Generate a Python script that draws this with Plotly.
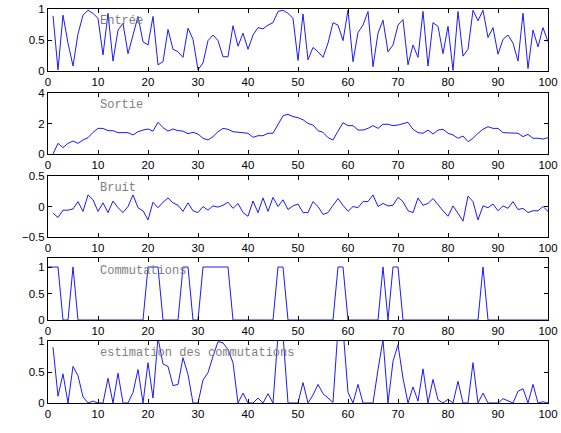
import plotly.graph_objects as go

x_vals = list(range(1, 101))
x_comm = list(range(0, 101))

entree = [0.89, 0.02, 0.90, 0.45, 0.08, 0.60, 0.90, 0.98, 0.93, 0.85,
          0.26, 0.93, 0.16, 0.66, 0.77, 0.28, 0.58, 0.88, 0.47, 0.42,
          0.88, 0.10, 0.15, 0.67, 0.35, 0.31, 0.22, 0.69, 0.51, 0.02,
          0.13, 0.49, 0.58, 0.49, 0.23, 0.23, 0.73, 0.40, 0.61, 0.35,
          0.58, 0.70, 0.68, 0.74, 0.78, 0.96, 0.98, 0.93, 0.85, 0.17,
          0.92, 0.18, 0.38, 0.31, 0.22, 0.45, 0.78, 0.74, 0.49, 0.98,
          0.15, 0.62, 0.74, 0.96, 0.07, 0.61, 0.82, 0.31, 0.42, 0.74,
          0.83, 0.10, 0.42, 0.22, 0.96, 0.08, 0.78, 0.72, 0.28, 0.72,
          0.01, 0.96, 0.24, 0.35, 0.98, 0.81, 0.98, 0.54, 0.70, 0.27,
          0.51, 0.58, 0.45, 0.16, 0.93, 0.04, 0.66, 0.39, 0.70, 0.47]

sortie = [0.00, 0.70, 0.42, 0.70, 0.85, 0.70, 0.92, 1.07, 1.42, 1.68,
          1.68, 1.53, 1.53, 1.40, 1.40, 1.40, 1.25, 1.46, 1.57, 1.64,
          1.50, 2.08, 1.73, 1.50, 1.64, 1.53, 1.50, 1.33, 1.42, 1.31,
          1.03, 0.92, 1.14, 1.46, 1.68, 1.62, 1.46, 1.42, 1.42, 1.36,
          1.09, 1.20, 1.20, 1.36, 1.36, 1.95, 2.51, 2.60, 2.45, 2.38,
          2.25, 2.00, 1.90, 1.53, 1.42, 1.07, 0.92, 1.50, 2.05, 1.86,
          1.86, 1.57, 1.57, 1.68, 1.86, 1.68, 1.95, 1.95, 1.86, 1.90,
          2.00, 2.08, 1.62, 1.40, 1.36, 1.57, 1.31, 1.57, 1.62, 1.36,
          1.25, 1.03, 1.18, 0.81, 1.03, 1.36, 1.62, 1.79, 1.68, 1.68,
          1.40, 1.40, 1.36, 1.36, 1.14, 1.29, 1.03, 1.03, 0.98, 1.07]

bruit = [-0.11, -0.18, -0.06, -0.06, -0.04, 0.08, -0.08, 0.19, 0.11, -0.08,
         0.06, -0.10, 0.09, -0.02, -0.10, 0.00, 0.19, -0.02, -0.07, -0.22,
         0.07, -0.02, 0.07, 0.14, 0.06, 0.02, -0.08, 0.06, -0.07, -0.10,
         0.00, -0.06, 0.01, -0.01, 0.02, 0.07, -0.03, 0.05, -0.10, -0.16,
         0.09, -0.10, 0.14, -0.08, 0.15, 0.00, 0.11, -0.05, 0.01, 0.04,
         -0.10, -0.10, 0.08, 0.00, -0.13, -0.10, 0.02, 0.13, 0.02, -0.08,
         0.00, -0.02, 0.08, 0.08, 0.19, 0.00, 0.05, 0.01, 0.02, 0.15,
         0.08, -0.07, -0.10, 0.14, 0.02, 0.05, 0.13, 0.02, -0.07, -0.16,
         0.01, -0.11, -0.24, 0.17, 0.08, -0.22, 0.01, -0.02, 0.04, -0.07,
         0.01, -0.03, 0.08, -0.05, -0.03, -0.10, -0.07, -0.07, 0.00, -0.08]

comm_on = [0, 1, 2, 5, 20, 21, 22, 27, 28, 31, 32, 33, 34, 35, 36,
           46, 47, 58, 59, 67, 69, 70, 87]
commutations = [1 if k in comm_on else 0 for k in x_comm]

estimation = [0.90, 0.11, 0.47, 0.00, 0.59, 0.44, 0.10, 0.00, 0.03, 0.00,
              0.00, 0.40, 0.00, 0.48, 0.00, 0.00, 0.17, 0.54, 0.00, 0.65,
              0.08, 1.05, 0.63, 0.59, 0.28, 0.30, 0.73, 0.46, 0.00, 0.00,
              0.37, 0.49, 0.75, 0.99, 0.97, 0.86, 0.65, 0.00, 0.16, 0.00,
              0.00, 0.08, 0.00, 0.15, 0.00, 1.10, 1.10, 0.00, 0.00, 0.00,
              0.33, 0.00, 0.13, 0.30, 0.15, 0.08, 0.01, 1.20, 1.20, 0.17,
              0.00, 0.30, 0.00, 0.00, 0.00, 0.54, 1.02, 0.00, 0.67, 0.94,
              0.40, 0.00, 0.26, 0.03, 0.55, 0.00, 0.38, 0.05, 0.00, 0.06,
              0.00, 0.35, 0.00, 0.00, 0.65, 0.00, 0.16, 0.00, 0.00, 0.00,
              0.07, 0.03, 0.00, 0.19, 0.23, 0.00, 0.30, 0.00, 0.02, 0.00]

labels = ["Entrée", "Sortie", "Bruit", "Commutations", "estimation des commutations"]
label_y = [0.8, 3.2, 0.3, 0.93, 0.8]
y_ranges = [[0, 1], [0, 4], [-0.5, 0.5], [0, 1.17], [0, 1]]
y_ticks = [[0, 0.5, 1], [0, 2, 4], [-0.5, 0, 0.5], [0, 0.5, 1], [0, 0.5, 1]]
x_ticks = list(range(0, 101, 10))

W, H = 561, 433
boxes = [(9, 71), (93, 154), (176, 237), (258, 320), (341, 403)]
x_dom = [48 / W, 548 / W]

series = [(x_vals, entree), (x_vals, sortie), (x_vals, bruit),
          (x_comm, commutations), (x_vals, estimation)]

fig = go.Figure()
layout = dict(width=W, height=H, margin=dict(l=0, r=0, t=0, b=0, autoexpand=False),
              paper_bgcolor="white", plot_bgcolor="white", showlegend=False,
              annotations=[])

tickfont = dict(family="Liberation Sans, Arial, sans-serif", size=11.5, color="black")

for i, ((xs, ys), (top, bot)) in enumerate(zip(series, boxes)):
    n = i + 1
    xa = "x" if n == 1 else f"x{n}"
    ya = "y" if n == 1 else f"y{n}"
    fig.add_trace(go.Scatter(x=xs, y=ys, mode="lines", xaxis=xa, yaxis=ya,
                             line=dict(color="#1a1aff", width=1)))
    axis_common = dict(showline=True, linecolor="black", linewidth=1, mirror="ticks",
                       ticks="inside", ticklen=4, tickcolor="black", tickwidth=1,
                       showgrid=False, zeroline=False, tickfont=tickfont,
                       automargin=False)
    layout["xaxis" if n == 1 else f"xaxis{n}"] = dict(
        domain=x_dom, range=[0, 100], tickvals=x_ticks, anchor=ya, **axis_common)
    layout["yaxis" if n == 1 else f"yaxis{n}"] = dict(
        domain=[1 - bot / H, 1 - top / H], range=y_ranges[i], tickvals=y_ticks[i],
        anchor=xa, **axis_common)
    layout["annotations"].append(dict(
        x=10, y=label_y[i], xref=xa, yref=ya, text=labels[i], showarrow=False,
        xanchor="left", yanchor="middle",
        font=dict(family="Liberation Mono, Courier New, monospace", size=12, color="#808080")))

fig.update_layout(**layout)
fig.write_html("out.html")
